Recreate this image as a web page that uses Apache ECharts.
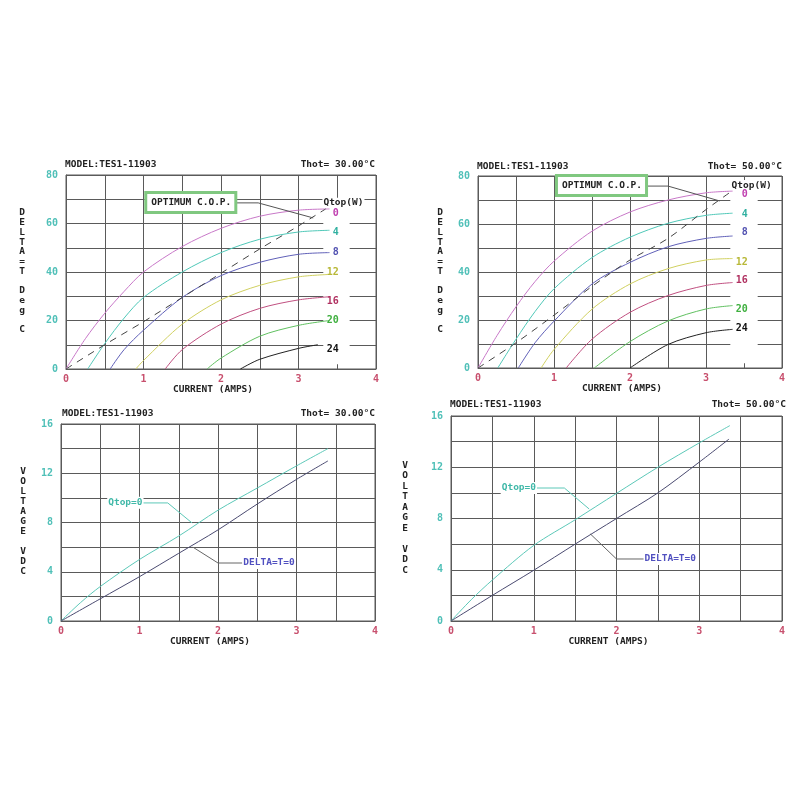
<!DOCTYPE html>
<html><head><meta charset="utf-8">
<script src="https://cdn.jsdelivr.net/npm/echarts@6/dist/echarts.min.js"></script>
<style>html,body{margin:0;padding:0;background:#fff}#c{width:800px;height:800px}</style>
</head><body><div id="c"></div>
<script>
// ---------- DATA ----------
const qtopLabels = ['0', '4', '8', '12', '16', '20', '24'];

// Thot = 30 °C : DELTA-T vs CURRENT for each Qtop
const dT30_q0  = [[0,0],[0.25,12.5],[0.5,23],[0.75,32],[1,40],[1.5,50.5],[2,58],[2.5,63],[3,65.5],[3.4,66]];
const dT30_q4  = [[0.28,0],[0.5,10.5],[0.75,21],[1,29.5],[1.5,40],[2,48],[2.5,53.5],[3,56.5],[3.4,57.2]];
const dT30_q8  = [[0.57,0],[0.75,8],[1,16],[1.5,29.5],[2,38.5],[2.5,44],[3,47.3],[3.4,48]];
const dT30_q12 = [[0.9,0],[1,3.5],[1.5,18.5],[2,28.5],[2.5,34.5],[3,38],[3.4,39]];
const dT30_q16 = [[1.28,0],[1.5,8],[2,18.5],[2.5,25],[3,28.5],[3.4,29.8]];
const dT30_q20 = [[1.82,0],[2,4.5],[2.5,13.5],[3,18],[3.4,20]];
const dT30_q24 = [[2.25,0],[2.5,4],[3,8.5],[3.25,10]];
const cop30    = [[0,0],[0.5,10],[1,19.5],[1.5,29.5],[2,39.5],[2.5,49.5],[3,59],[3.35,66]];
const labelY30 = [64.3, 56.5, 48.2, 40, 28, 20.2, 8.2];
const copLeader30 = [[2.17,68.5],[2.48,68.5],[3.19,62.3]];

// Thot = 50 °C
const dT50_q0  = [[0,0],[0.25,13.5],[0.5,25.5],[0.75,36],[1,44.5],[1.5,57],[2,65],[2.5,70],[3,73],[3.35,73.7]];
const dT50_q4  = [[0.26,0],[0.5,12],[0.75,23.5],[1,33],[1.5,46],[2,54.5],[2.5,60.3],[3,63.6],[3.35,64.5]];
const dT50_q8  = [[0.53,0],[0.75,10.5],[1,19.5],[1.5,35],[2,44],[2.5,50.5],[3,54],[3.35,55]];
const dT50_q12 = [[0.83,0],[1,7.7],[1.5,24.5],[2,35],[2.5,41.4],[3,45],[3.35,45.6]];
const dT50_q16 = [[1.16,0],[1.5,12],[2,23.2],[2.5,30.2],[3,34.4],[3.35,35.6]];
const dT50_q20 = [[1.53,0],[2,11],[2.5,19.6],[3,24.6],[3.35,26]];
const dT50_q24 = [[2.0,0],[2.5,9.8],[3,14.7],[3.35,16.1]];
const cop50    = [[0,0],[0.5,10.5],[1,22],[1.5,34],[2,45],[2.5,54],[3,66],[3.33,73.5]];
const labelY50 = [72.3, 64.2, 56.3, 44.2, 36.3, 24.6, 16.3];
const copLeader50 = [[2.18,75.8],[2.5,75.8],[3.18,69.6]];

// VOLTAGE vs CURRENT
const v30_q0  = [[0,0],[0.25,1.5],[0.5,2.8],[1,5.0],[1.5,6.9],[2,9.0],[2.5,10.8],[3,12.6],[3.4,14.0]];
const v30_dt0 = [[0,0],[0.5,1.8],[1,3.6],[1.5,5.5],[2,7.4],[2.5,9.5],[3,11.5],[3.4,13.0]];
const v50_q0  = [[0,0],[0.25,1.7],[0.5,3.2],[1,5.9],[1.5,7.9],[2,9.96],[2.5,12],[3,13.9],[3.37,15.25]];
const v50_dt0 = [[0,0],[0.5,2.0],[1,3.96],[1.5,6],[2,8],[2.5,10],[3,12.4],[3.36,14.2]];
const qLeader30 = [[1.04,9.59],[1.36,9.59],[1.67,7.96]];
const dLeader30 = [[2.31,4.71],[2.0,4.71],[1.68,6.0]];
const qLeader50 = [[1.03,10.38],[1.37,10.38],[1.67,8.74]];
const dLeader50 = [[2.34,4.84],[2.0,4.84],[1.685,6.79]];
const qLabelPos30 = [0.82, 9.6];
const dLabelPos30 = [2.65, 4.71];
const qLabelPos50 = [0.82, 10.38];
const dLabelPos50 = [2.65, 4.84];

const xTicks = [0, 1, 2, 3, 4];
const yTicksDT = [0, 20, 40, 60, 80];
const yTicksV = [0, 4, 8, 12, 16];

// ---------- STYLE ----------
const FONT = 'DejaVu Sans Mono';
const GRIDC = '#5a5a5a';
const lineColors  = ['#c878c8', '#50c8b8', '#6060b8', '#d0d060', '#c05080', '#60c060', '#222222'];
const labelColors = ['#c040b0', '#30b0a0', '#5050b0', '#b8b838', '#b03060', '#40b040', '#111111'];
const TEAL = '#5cc8b8', SLATE = '#4a4a70';

const grids = [
  {left: 66, top: 175, width: 310, height: 194},
  {left: 478, top: 176, width: 304, height: 192},
  {left: 61, top: 424, width: 314, height: 197},
  {left: 451, top: 416, width: 331, height: 205}
].map(g => Object.assign({show: true, borderColor: GRIDC, borderWidth: 1, backgroundColor: 'transparent'}, g));

function xAx(i) {
  return {
    type: 'value', gridIndex: i, min: 0, max: 4, interval: 0.5,
    axisLine: {show: true, lineStyle: {color: GRIDC}}, axisTick: {show: false},
    splitLine: {show: true, lineStyle: {color: GRIDC, width: 1}},
    axisLabel: {color: '#c8506e', fontFamily: FONT, fontSize: 10, fontWeight: 'bold', margin: 5,
      formatter: v => xTicks.indexOf(v) >= 0 ? String(v) : ''},
    name: 'CURRENT (AMPS)', nameLocation: 'middle', nameGap: 12,
    nameTextStyle: {color: '#222', fontFamily: FONT, fontSize: 9.5, fontWeight: 'bold', padding: [0, 16, 0, 0]}
  };
}
function yAx(i, max, interval, ticks) {
  return {
    type: 'value', gridIndex: i, min: 0, max: max, interval: interval,
    axisLine: {show: true, lineStyle: {color: GRIDC}}, axisTick: {show: false},
    splitLine: {show: true, lineStyle: {color: GRIDC, width: 1}},
    axisLabel: {color: '#50c0b8', fontFamily: FONT, fontSize: 10, fontWeight: 'bold', margin: 8,
      formatter: v => ticks.indexOf(v) >= 0 ? String(v) : ''}
  };
}

function curve(i, data, color, extra) {
  return Object.assign({
    type: 'line', xAxisIndex: i, yAxisIndex: i, data: data, showSymbol: false, symbol: 'none',
    smooth: 0.3, lineStyle: {color: color, width: 1}, z: 3, silent: true
  }, extra || {});
}
function textPoint(coord, text, style) {
  return {coord: coord, symbol: 'circle', symbolSize: 0,
    label: Object.assign({show: true, position: 'inside', formatter: text,
      fontFamily: FONT, fontSize: 9.5, fontWeight: 'bold'}, style)};
}
function whiteColumn(i, x0, x1, y0, y1, extraPoints) {
  return {type: 'line', xAxisIndex: i, yAxisIndex: i, data: [[x0, y0]], symbol: 'none',
    lineStyle: {opacity: 0}, z: 1, silent: true,
    markArea: {silent: true, itemStyle: {color: '#ffffff'}, data: [[{coord: [x0, y0]}, {coord: [x1, y1]}]]},
    markPoint: {silent: true, data: extraPoints}};
}

const series = [];
// Panel 1 and 2 (DELTA-T)
[[0, [dT30_q0, dT30_q4, dT30_q8, dT30_q12, dT30_q16, dT30_q20, dT30_q24], cop30, labelY30, copLeader30, [1.61, 68.7], [3.58, 68.6], 3.52, [3.32, 3.66, 2, 70]],
 [1, [dT50_q0, dT50_q4, dT50_q8, dT50_q12, dT50_q16, dT50_q20, dT50_q24], cop50, labelY50, copLeader50, [1.625, 76], [3.6, 76.2], 3.55, [3.32, 3.68, 2, 78]]
].forEach(([gi, curves, cop, labY, leader, boxPos, qPos, labX, wc]) => {
  series.push(whiteColumn(gi, wc[0], wc[1], wc[2], wc[3], [
    textPoint(qPos, 'Qtop(W)', {color: '#222', backgroundColor: '#fff', padding: [0, 1]})
  ]));
  curves.forEach((d, k) => {
    series.push(curve(gi, d, lineColors[k], {
      markPoint: {silent: true, data: [textPoint([labX, labY[k]], qtopLabels[k],
        {color: labelColors[k], align: 'right', fontSize: 10})]}
    }));
  });
  series.push(curve(gi, cop, '#444', {
    lineStyle: {color: '#444', width: 1, type: [7, 6]},
    markPoint: {silent: true, data: [
      textPoint(boxPos, 'OPTIMUM C.O.P.', {color: '#222', backgroundColor: '#fff',
        borderColor: '#80c880', borderWidth: 3, padding: [4, 3, 3, 4]})
    ]}
  }));
  series.push(curve(gi, leader, '#555', {smooth: false, z: 4}));
});

// Panel 3 and 4 (VOLTAGE)
[[2, v30_q0, v30_dt0, qLeader30, dLeader30, qLabelPos30, dLabelPos30],
 [3, v50_q0, v50_dt0, qLeader50, dLeader50, qLabelPos50, dLabelPos50]
].forEach(([gi, q0, dt0, ql, dl, qp, dp]) => {
  series.push(curve(gi, q0, TEAL, {markPoint: {silent: true, data: [
    textPoint(qp, 'Qtop=0', {color: '#40b8a8', backgroundColor: '#fff', padding: [1, 1]})]}}));
  series.push(curve(gi, dt0, SLATE, {markPoint: {silent: true, data: [
    textPoint(dp, 'DELTA=T=0', {color: '#5050c0', backgroundColor: '#fff', padding: [1, 1]})]}}));
  series.push(curve(gi, ql, TEAL, {smooth: false}));
  series.push(curve(gi, dl, '#666', {smooth: false}));
});

function txt(x, y, text, align, extra) {
  return {type: 'text', silent: true, style: Object.assign({x: x, y: y, text: text, align: align || 'left',
    verticalAlign: 'middle', fill: '#222', font: 'bold 9.5px "' + FONT + '"'}, extra || {})};
}
function vtxt(x, y, text, lh) {
  return {type: 'text', silent: true, style: {x: x, y: y, text: text, align: 'center', verticalAlign: 'top',
    fill: '#222', font: 'bold 9.5px "' + FONT + '"', lineHeight: lh}};
}

const graphic = [
  txt(65, 165, 'MODEL:TES1-11903'), txt(375, 165, 'Thot= 30.00°C', 'right'),
  txt(477, 167, 'MODEL:TES1-11903'), txt(782, 167, 'Thot= 50.00°C', 'right'),
  txt(62, 414, 'MODEL:TES1-11903'), txt(375, 414, 'Thot= 30.00°C', 'right'),
  txt(450, 405, 'MODEL:TES1-11903'), txt(786, 405, 'Thot= 50.00°C', 'right'),
  vtxt(22, 208, 'D\nE\nL\nT\nA\n=\nT\n\nD\ne\ng\n\nC', 9.75),
  vtxt(440, 208, 'D\nE\nL\nT\nA\n=\nT\n\nD\ne\ng\n\nC', 9.75),
  vtxt(23, 467, 'V\nO\nL\nT\nA\nG\nE\n\nV\nD\nC', 10),
  vtxt(405, 460, 'V\nO\nL\nT\nA\nG\nE\n\nV\nD\nC', 10.5)
];

const chart = echarts.init(document.getElementById('c'), null, {renderer: 'canvas'});
chart.setOption({
  animation: false,
  backgroundColor: '#ffffff',
  grid: grids,
  xAxis: [xAx(0), xAx(1), xAx(2), xAx(3)],
  yAxis: [yAx(0, 80, 10, yTicksDT), yAx(1, 80, 10, yTicksDT), yAx(2, 16, 2, yTicksV), yAx(3, 16, 2, yTicksV)],
  series: series,
  graphic: graphic
});
</script>
</body></html>
